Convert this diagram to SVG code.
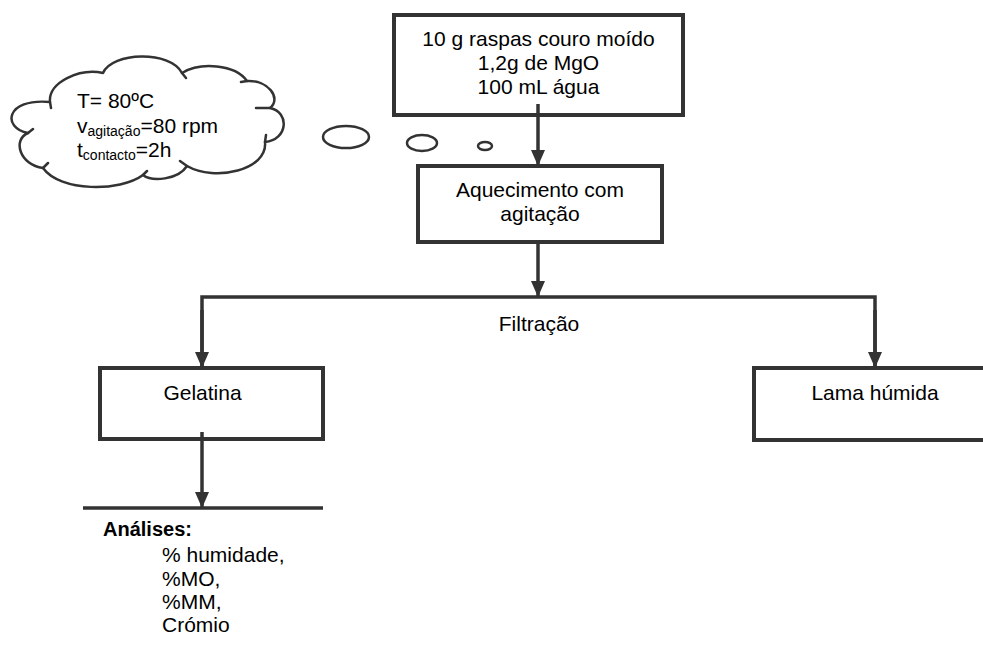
<svg xmlns="http://www.w3.org/2000/svg" width="983" height="646" viewBox="0 0 983 646">
<style>
.box{fill:#fff;stroke:#333;stroke-width:4}
.ln{fill:none;stroke:#333;stroke-width:3.5}
.cl{fill:#fff;stroke:#333;stroke-width:2.5;stroke-linejoin:round;stroke-linecap:round}
.tk{fill:none;stroke:#333;stroke-width:2.5;stroke-linecap:round}
.t{font-family:"Liberation Sans",Arial,sans-serif;font-size:21px;fill:#000}
.c{text-anchor:middle}
.s{font-size:14px}
.b{font-weight:bold}
</style>
<defs>
<marker id="ad" markerUnits="userSpaceOnUse" markerWidth="14" markerHeight="16" refX="7" refY="16" viewBox="0 0 14 16">
<path d="M0,0 L14,0 L7,16 Z" fill="#333"/>
</marker>
</defs>

<g id="cloud">
<path class="cl" d="M50,102 C48,82 80,68 103,73 C112,52 170,50 182,73 C200,62 235,64 247,81 C268,80 282,98 270,108 C290,112 288,140 265,142 C268,170 215,182 187,166 C178,180 152,182 143,175 C120,192 60,192 43,168 C20,165 12,140 28,133 C2,128 5,98 50,102 Z"/>
<path class="tk" d="M50,102 L51,108 M182,73 L186,78 M247,81 L241,82 M270,108 L256,108 M265,142 L266,135 M187,166 L180,161 M143,175 L147,171 M43,168 L48,163 M28,133 L33,129"/>
<text class="t" x="77" y="108">T= 80ºC</text>
<text class="t" x="77" y="133">v<tspan class="s" dy="3">agitação</tspan><tspan dy="-3">=80 rpm</tspan></text>
<text class="t" x="77" y="157">t<tspan class="s" dy="3">contacto</tspan><tspan dy="-3">=2h</tspan></text>
</g>

<g id="bubbles">
<ellipse cx="346" cy="137" rx="23" ry="11" class="cl"/>
<ellipse cx="422" cy="143" rx="15" ry="8" class="cl"/>
<ellipse cx="485" cy="146" rx="7" ry="4" class="cl"/>
</g>

<g id="n1">
<rect class="box" x="394" y="15" width="289" height="100"/>
<text class="t c" x="538.5" y="46">10 g raspas couro moído</text>
<text class="t c" x="538.5" y="70">1,2g de MgO</text>
<text class="t c" x="538.5" y="94">100 mL água</text>
</g>

<g id="n2">
<rect class="box" x="418" y="166" width="244" height="76"/>
<text class="t c" x="540" y="197">Aquecimento com</text>
<text class="t c" x="540" y="221">agitação</text>
</g>

<g id="n3">
<rect class="box" x="100" y="368" width="223" height="71"/>
<text class="t c" x="202.5" y="400">Gelatina</text>
</g>

<g id="n4">
<rect class="box" x="754" y="368" width="260" height="72"/>
<text class="t c" x="875" y="400">Lama húmida</text>
</g>

<g id="connectors">
<line class="ln" x1="538" y1="104" x2="538" y2="166" marker-end="url(#ad)"/>
<line class="ln" x1="538" y1="242" x2="538" y2="297" marker-end="url(#ad)"/>
<polyline class="ln" points="202,368 202,297 875,297 875,368"/>
<line class="ln" x1="202" y1="310" x2="202" y2="368" marker-end="url(#ad)"/>
<line class="ln" x1="875" y1="310" x2="875" y2="368" marker-end="url(#ad)"/>
<line class="ln" x1="202" y1="432" x2="202" y2="508" marker-end="url(#ad)"/>
<line class="ln" x1="83" y1="508" x2="323" y2="508"/>
<text class="t c" x="539" y="331">Filtração</text>
</g>

<g id="analises">
<text class="t b" x="103" y="536" style="font-size:20px">Análises:</text>
<text class="t" x="162" y="562">% humidade,</text>
<text class="t" x="162" y="586">%MO,</text>
<text class="t" x="162" y="609">%MM,</text>
<text class="t" x="162" y="632">Crómio</text>
</g>
</svg>
